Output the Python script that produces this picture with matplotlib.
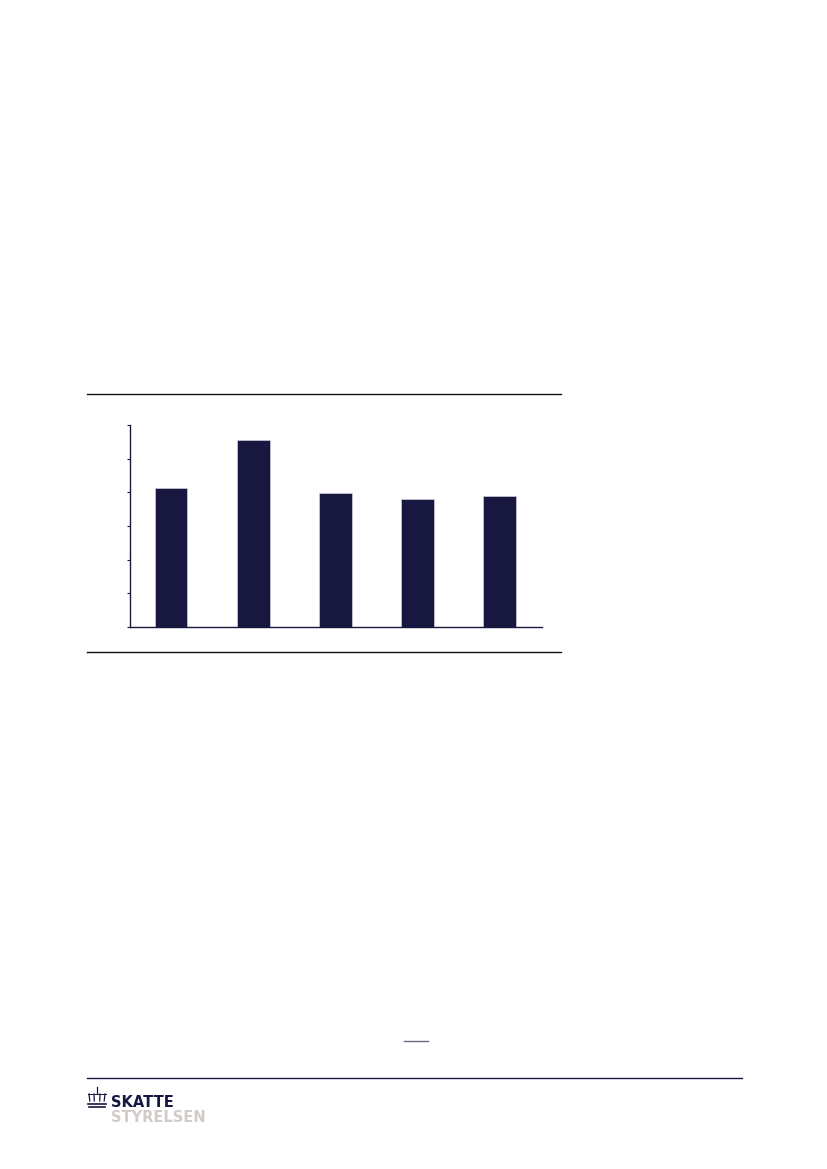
import numpy as np
import matplotlib
matplotlib.use("Agg")
import matplotlib.pyplot as plt
from matplotlib.lines import Line2D

# data (no labels shown in the original)
categories = ["1", "2", "3", "4", "5"]
values = [4.12, 5.56, 3.97, 3.81, 3.88]
yticks = [0, 1, 2, 3, 4, 5, 6]

navy = "#18173f"

W, H = 827, 1169
fig = plt.figure(figsize=(W / 100, H / 100), dpi=100)

def fx(px):
    return px / W

def fy(py):
    return 1 - py / H

ax = fig.add_axes([fx(130), fy(627), fx(542) - fx(130), fy(425) - fy(627)])
x = np.arange(len(categories))
ax.bar(x, values, width=0.4, color=navy, edgecolor="#c4c4d4", linewidth=0.6)
ax.set_xlim(-0.5, 4.52)
ax.set_ylim(yticks[0], yticks[-1])
ax.set_yticks(yticks)
ax.set_yticklabels([])
ax.set_xticks([])
ax.tick_params(axis="y", direction="out", length=2, width=0.8, color=navy)
for s in ["top", "right"]:
    ax.spines[s].set_visible(False)
for s in ["left", "bottom"]:
    ax.spines[s].set_color(navy)
    ax.spines[s].set_linewidth(1.0)

# horizontal rules around chart
def hline(x0, x1, y, lw=1.0, color="#111111"):
    fig.add_artist(Line2D([fx(x0), fx(x1)], [fy(y), fy(y)], color=color, lw=lw))

hline(87, 561, 393.5, lw=1.0)
hline(87, 561, 651.5, lw=1.0)

# page footer
hline(404, 428, 1041, lw=1.0, color="#6a6a88")
hline(87, 742, 1078, lw=1.0, color=navy)

# crown logo (simple)
cx = 97
fig.add_artist(Line2D([fx(cx - 9), fx(cx + 9)], [fy(1104), fy(1104)], color=navy, lw=1.2))
fig.add_artist(Line2D([fx(cx - 8), fx(cx + 8)], [fy(1107), fy(1107)], color=navy, lw=1.2))
for dx in [-8, -3, 3, 8]:
    fig.add_artist(Line2D([fx(cx + dx * 0.9), fx(cx + dx)], [fy(1101), fy(1094)], color=navy, lw=0.9))
fig.add_artist(Line2D([fx(cx), fx(cx)], [fy(1087), fy(1093)], color=navy, lw=0.9))
fig.add_artist(Line2D([fx(cx - 9), fx(cx + 9)], [fy(1094), fy(1094)], color=navy, lw=0.7))

fig.text(fx(111), fy(1107), "SKATTE", fontsize=10.5, fontweight="bold",
         color=navy, family="DejaVu Sans", va="baseline", ha="left")
fig.text(fx(111), fy(1122), "STYRELSEN", fontsize=10.5, fontweight="bold",
         color="#d3cbc7", family="DejaVu Sans", va="baseline", ha="left")

fig.savefig("out.png", dpi=100)
